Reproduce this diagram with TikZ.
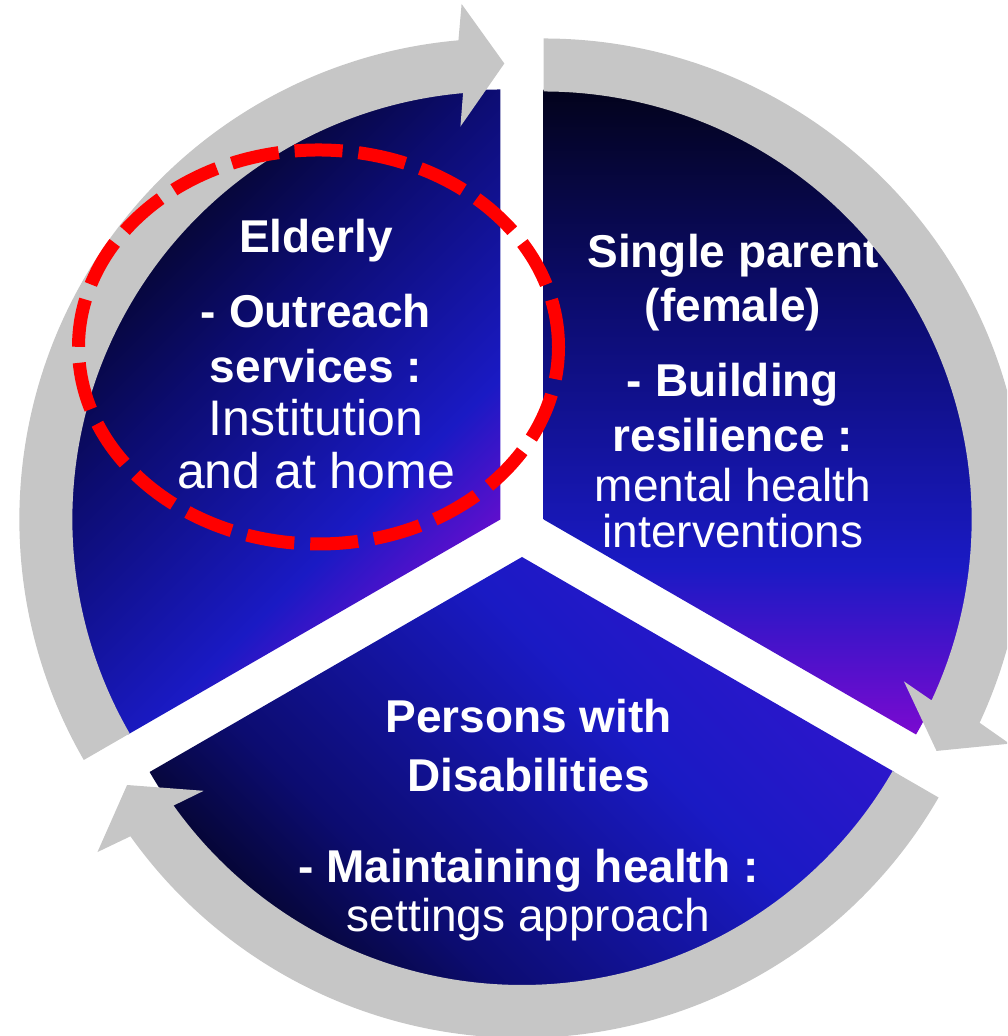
\documentclass[tikz,border=0pt]{standalone}
\usepackage{fontspec}
\setmainfont{Liberation Sans}
\usetikzlibrary{positioning}

\definecolor{secdark}{HTML}{03031C}
\definecolor{secnavy}{HTML}{0C0C70}
\definecolor{secblue}{HTML}{1A1AC4}
\definecolor{secviolet}{HTML}{2E16CC}
\definecolor{secpurple}{HTML}{7A0AD0}
\definecolor{ringgray}{HTML}{C6C6C6}
\definecolor{markred}{HTML}{FF0000}

\pgfdeclareverticalshading{sectorshade}{100bp}{color(0bp)=(secpurple); color(25bp)=(secpurple); color(38bp)=(secblue); color(58bp)=(secnavy); color(75bp)=(secdark); color(100bp)=(secdark)}
\pgfdeclareverticalshading{lowershade}{100bp}{color(0bp)=(secviolet); color(25bp)=(secviolet); color(40bp)=(secblue); color(62bp)=(secnavy); color(75bp)=(secdark); color(100bp)=(secdark)}

% gray ring arrow: center, tail angle, tip angle (runs clockwise)
\newcommand{\cyclearrow}[3]{%
  \fill[ringgray,shift={(#1)}] (#2:428) -- (#2:481)
    arc[start angle=#2,end angle={#3+5.5},radius=481] -- ({#3+4.8}:517)
    -- (#3:456) -- ({#3+6.3}:395) -- ({#3+5.5}:428)
    arc[start angle={#3+5.5},end angle=#2,radius=428] -- cycle;}

\begin{document}
\begin{tikzpicture}[x=0.5pt,y=0.5pt,node distance=27pt,on grid,
  line/.style={text=white,inner sep=0pt,text height=17pt,text depth=5pt},
  head/.style={line,font=\fontsize{23}{27}\selectfont\bfseries},
  body/.style={line,font=\fontsize{23}{27}\selectfont},
  bodybig/.style={line,font=\fontsize{25}{27}\selectfont},
  dashring/.style={draw=markred,line width=6.5pt,dash pattern=on 24pt off 8pt}]
\useasboundingbox (0,0) rectangle (1007,1036);
\clip (0,0) rectangle (1007,1036);

\coordinate (cenL) at (500.35,516.5);
\coordinate (cenR) at (543.65,516.5);
\coordinate (cenB) at (522,479);

% sectors
\shade[shading=sectorshade,shading angle=45] (cenL) -- ++(90:430)
  arc[start angle=90,end angle=210,radius=430] -- cycle;
\shade[shading=sectorshade,shading angle=0] (cenR) -- ++(-30:430)
  arc[start angle=-30,end angle=90,radius=430] -- cycle;
\shade[shading=lowershade,shading angle=135] (cenB) -- ++(210:430)
  arc[start angle=210,end angle=330,radius=430] -- cycle;

% texts
\node[head,anchor=base] (elderly) at (316,783) {Elderly};
\node[head] (outreach) [below=37.5pt of elderly] {- Outreach};
\node[head] (services) [below=27.5pt of outreach] {services :};
\node[bodybig] (institution) [below=26.5pt of services] {Institution};
\node[bodybig] (athome) [below=26.5pt of institution] {and at home};

\node[head,anchor=base] (single) at (733,768) {Single parent};
\node[head] (female) [below=27pt of single] {(female)};
\node[head] (building) [below=37.5pt of female] {- Building};
\node[head] (resilience) [below=27.5pt of building] {resilience :};
\node[body] (mental) [below=25pt of resilience] {mental health};
\node[body] (interventions) [below=23pt of mental] {interventions};

\node[head,anchor=base] (persons) at (528.5,303) {Persons with};
\node[head] (disabilities) [below=29.5pt of persons] {Disabilities};
\node[head] (maintaining) [below=45.5pt of disabilities] {- Maintaining health :};
\node[body] (settings) [below=24.5pt of maintaining] {settings approach};

% ring arrows
\cyclearrow{cenL}{210}{89.5}
\cyclearrow{cenR}{90}{-30.5}
\cyclearrow{cenB}{330}{210}

% red mark round Elderly
\draw[dashring] (318.5,689) ellipse[x radius=240,y radius=197];
\end{tikzpicture}
\end{document}
